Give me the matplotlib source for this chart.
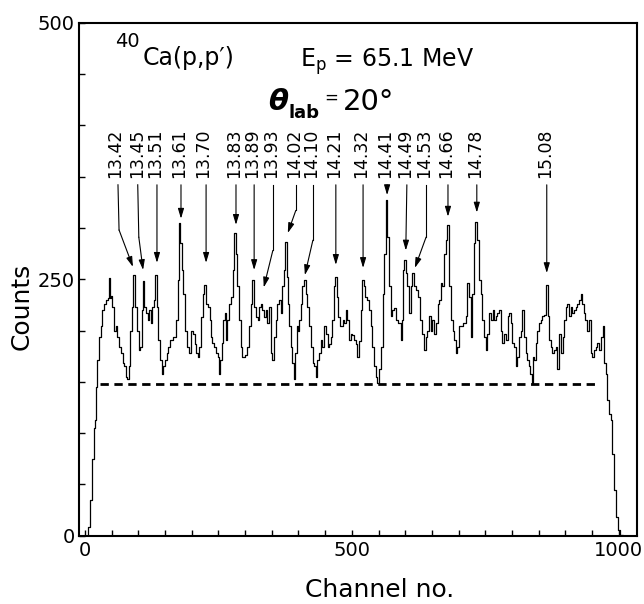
import numpy as np
import matplotlib
matplotlib.use('Agg')
import matplotlib.pyplot as plt

# spectrum (channel, counts)
channel = [0, 5, 8, 11, 15, 19, 20, 22, 25, 28, 31, 34, 38, 41, 44, 46, 48, 50, 53, 56,
           59, 62, 66, 69, 72, 75, 78, 81, 84, 86, 89, 92, 96, 100, 103, 105, 108, 110, 112, 116,
           119, 122, 125, 128, 131, 133, 136, 139, 142, 146, 148, 152, 154, 158, 162, 169, 172, 175, 177, 181,
           183, 185, 189, 194, 197, 201, 205, 208, 210, 213, 215, 220, 223, 225, 228, 232, 235, 238, 240, 244,
           247, 250, 252, 254, 258, 260, 263, 265, 268, 272, 275, 278, 281, 284, 287, 290, 293, 297, 303, 306,
           309, 312, 315, 318, 322, 325, 328, 331, 334, 337, 340, 343, 346, 350, 352, 356, 359, 362, 365, 368,
           371, 374, 377, 379, 381, 384, 387, 390, 392, 395, 398, 400, 403, 406, 409, 412, 415, 418, 421, 425,
           428, 431, 434, 437, 440, 443, 446, 449, 453, 456, 459, 462, 465, 468, 470, 473, 476, 481, 484, 487,
           490, 493, 496, 499, 503, 506, 509, 512, 515, 518, 521, 524, 527, 531, 534, 537, 540, 543, 546, 549,
           552, 556, 559, 562, 565, 568, 571, 574, 577, 581, 584, 590, 593, 595, 596, 599, 602, 606, 609, 612,
           615, 618, 621, 627, 630, 634, 637, 640, 643, 646, 649, 652, 655, 659, 662, 665, 668, 671, 674, 677,
           680, 684, 687, 690, 693, 696, 699, 702, 705, 712, 715, 718, 721, 724, 727, 730, 733, 737, 740, 743,
           746, 749, 752, 755, 758, 762, 765, 768, 771, 774, 777, 780, 783, 787, 790, 793, 796, 799, 802, 805,
           808, 811, 815, 818, 821, 824, 827, 830, 833, 836, 838, 841, 843, 846, 849, 852, 855, 858, 861, 865,
           868, 871, 874, 877, 880, 883, 886, 890, 893, 896, 899, 902, 905, 908, 911, 915, 918, 921, 924, 927,
           930, 933, 936, 939, 943, 946, 949, 952, 955, 958, 961, 964, 968, 971, 974, 977, 980, 983, 986, 990,
           993, 997, 1001, 1005, 1010, 1033]
counts = [0, 0, 8, 35, 75, 105, 113, 145, 171, 194, 204, 220, 226, 230, 232, 251, 232, 234, 223, 200,
          204, 194, 184, 178, 168, 165, 155, 153, 165, 200, 223, 254, 223, 200, 181, 184, 220, 248, 223, 217,
          210, 220, 207, 223, 230, 254, 223, 191, 171, 158, 165, 171, 178, 184, 191, 194, 210, 249, 305, 285,
          259, 236, 200, 184, 178, 200, 197, 187, 178, 174, 184, 213, 236, 244, 226, 223, 210, 194, 188, 184,
          178, 174, 158, 171, 188, 210, 217, 191, 210, 226, 233, 259, 295, 275, 243, 210, 184, 174, 176, 184,
          204, 226, 249, 223, 213, 210, 223, 226, 220, 213, 220, 207, 223, 178, 171, 194, 210, 226, 230, 217,
          243, 259, 286, 252, 226, 204, 184, 168, 153, 178, 204, 200, 210, 226, 243, 249, 236, 223, 204, 184,
          168, 165, 155, 171, 178, 191, 184, 204, 197, 184, 187, 194, 210, 243, 252, 233, 213, 204, 210, 207,
          220, 210, 191, 197, 196, 191, 187, 174, 190, 220, 249, 243, 233, 230, 220, 204, 184, 165, 155, 149,
          162, 184, 236, 275, 327, 291, 243, 214, 220, 222, 210, 207, 191, 210, 259, 269, 256, 243, 217, 243,
          256, 243, 239, 233, 210, 197, 181, 194, 200, 214, 200, 210, 197, 207, 226, 230, 246, 243, 275, 288,
          303, 243, 210, 200, 191, 178, 184, 204, 204, 207, 214, 246, 233, 194, 236, 285, 306, 288, 249, 236,
          210, 194, 181, 197, 217, 210, 220, 210, 214, 217, 220, 200, 188, 197, 191, 214, 217, 207, 188, 184,
          165, 174, 194, 200, 220, 194, 178, 171, 165, 158, 149, 174, 171, 188, 200, 207, 210, 214, 215, 244,
          214, 191, 184, 178, 181, 184, 162, 197, 178, 194, 210, 223, 226, 214, 223, 217, 220, 223, 226, 230,
          236, 226, 217, 210, 200, 210, 178, 174, 181, 184, 188, 181, 194, 204, 168, 158, 132, 119, 113, 80,
          45, 18, 6, 1, 0, 0]

# background line
bg_level = 148
bg_start = 28
bg_end = 960

# level labels (MeV) and their arrows
levels = ['13.42', '13.45', '13.51', '13.61', '13.70', '13.83', '13.89', '13.93', '14.02',
          '14.10', '14.21', '14.32', '14.41', '14.49', '14.53', '14.66', '14.78', '15.08']
label_ch = [57, 97, 131, 176, 222, 279, 313, 349, 391, 424, 466, 518, 562, 600, 636, 677, 730, 862]
arrow_ch = [62, 99, 135, 180, 227, 283, 317, 352, 395, 427, 470, 521, 566, 603, 639, 680, 734, 865]
bend_ch = [64, 101, None, None, None, None, None, 352, 395, 427, None, None, None, None, 639, None, None, None]
bend_cnt = [298, 291, None, None, None, None, None, 278, 317, 288, None, None, None, None, 291, None, None, None]
tip_ch = [90, 109, 135, 180, 227, 283, 317, 335, 380, 412, 470, 521, 566, 601, 618, 680, 734, 865]
tip_cnt = [262, 259, 266, 309, 266, 303, 259, 242, 295, 254, 264, 261, 332, 278, 261, 311, 315, 256]

W, H = 644, 604
fig = plt.figure(figsize=(W / 100, H / 100), dpi=100)
ax = fig.add_axes([79 / W, 1 - 535.7 / H, 558 / W, 513 / H])

ax.plot(channel, counts, drawstyle='steps-mid', color='k', lw=0.9)
ax.plot([bg_start, bg_end], [bg_level, bg_level], color='k', lw=2, ls='--', dashes=(3, 2))

top = 342
for lab, lx, ax0, bx, by, tx, ty in zip(levels, label_ch, arrow_ch, bend_ch, bend_cnt, tip_ch, tip_cnt):
    ax.text(lx, 349, lab, rotation=90, ha='center', va='bottom', fontsize=12.5)
    if bx is None:
        start = (ax0, top)
    else:
        ax.plot([ax0, bx], [top, by], color='k', lw=0.8)
        start = (bx, by)
    ax.annotate('', xy=(tx, ty), xytext=start,
                arrowprops=dict(arrowstyle='-|>,head_length=0.6,head_width=0.18',
                                color='k', lw=0.8, shrinkA=0, shrinkB=0))

ax.set_xlim(-11, 1034)
ax.set_ylim(0, 500)
ax.set_xticks([0, 500, 1000])
ax.set_xticks(np.arange(0, 1001, 50), minor=True)
ax.set_yticks([0, 250, 500])
ax.set_yticks(np.arange(0, 501, 50), minor=True)
ax.tick_params(which='both', direction='in', length=4, width=1, labelsize=14,
               top=False, right=False)
ax.tick_params(axis='x', pad=4)
ax.tick_params(axis='y', pad=3)
for s in ax.spines.values():
    s.set_linewidth(1.5)

# header texts
fig.text(115 / W, 1 - 47 / H, '40', fontsize=14, va='baseline')
fig.text(143 / W, 1 - 65 / H, 'Ca(p,p\u2032)', fontsize=17, va='baseline')
fig.text(300 / W, 1 - 67 / H, r'E$_\mathregular{p}$ = 65.1 MeV', fontsize=17, va='baseline')
fig.text(268 / W, 1 - 110 / H, '\u03b8', fontsize=21, fontweight='bold', style='italic', va='baseline')
fig.text(288 / W, 1 - 118 / H, 'lab', fontsize=13, fontweight='bold', va='baseline')
fig.text(324 / W, 1 - 103 / H, '=', fontsize=12, va='baseline')
fig.text(343 / W, 1 - 110 / H, '20\u00b0', fontsize=21, va='baseline')

fig.text(22 / W, 1 - 306 / H, 'Counts', fontsize=18, rotation=90, ha='center', va='center')
fig.text(380 / W, 1 - 590 / H, 'Channel no.', fontsize=18, ha='center', va='center')

fig.savefig('out.png', dpi=100)
